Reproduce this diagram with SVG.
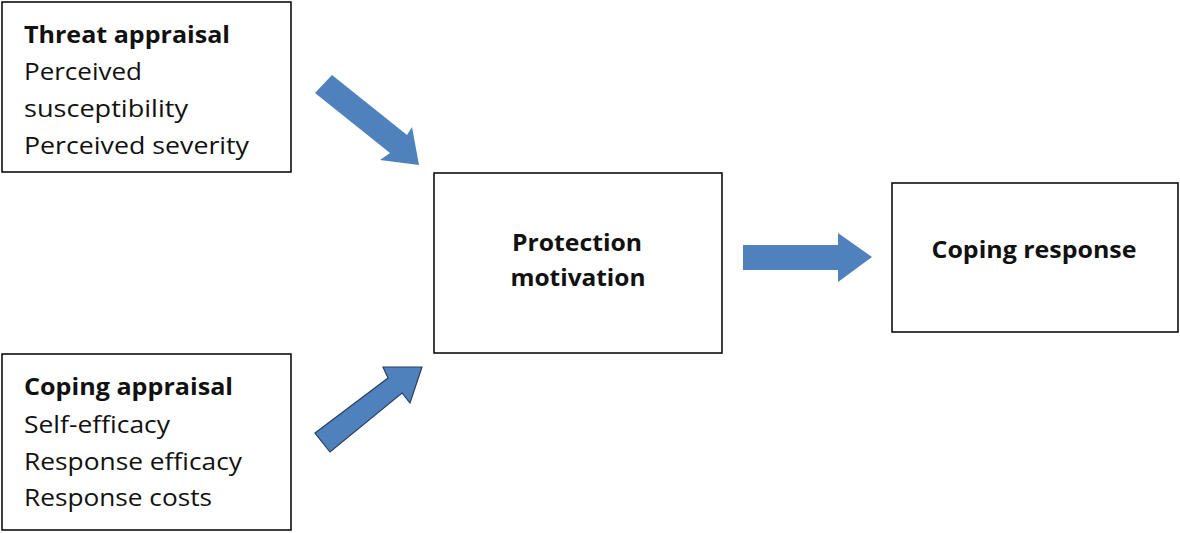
<svg xmlns="http://www.w3.org/2000/svg" width="1180" height="533" viewBox="0 0 1180 533">
<style>
.box{fill:#fff;stroke:#000;stroke-width:1.5}
.t{font-family:"Open Sans","Noto Sans",sans-serif;font-size:24px;fill:#111}
.b{font-weight:bold}
.arr{fill:#4F81BD}
</style>
<rect width="1180" height="533" fill="#fff"/>
<g id="threat">
<rect class="box" x="2" y="2" width="289" height="170"/>
<text class="t b" x="24" y="43" textLength="206" lengthAdjust="spacingAndGlyphs">Threat appraisal</text>
<text class="t" x="24" y="80" textLength="118" lengthAdjust="spacingAndGlyphs">Perceived</text>
<text class="t" x="24" y="117" textLength="164" lengthAdjust="spacingAndGlyphs">susceptibility</text>
<text class="t" x="24" y="154" textLength="225" lengthAdjust="spacingAndGlyphs">Perceived severity</text>
</g>
<g id="coping">
<rect class="box" x="2" y="354" width="289" height="176"/>
<text class="t b" x="24" y="395" textLength="209" lengthAdjust="spacingAndGlyphs">Coping appraisal</text>
<text class="t" x="24" y="433" textLength="146" lengthAdjust="spacingAndGlyphs">Self-efficacy</text>
<text class="t" x="24" y="470" textLength="218" lengthAdjust="spacingAndGlyphs">Response efficacy</text>
<text class="t" x="24" y="506" textLength="188" lengthAdjust="spacingAndGlyphs">Response costs</text>
</g>
<g id="protection">
<rect class="box" x="434" y="173" width="288" height="180"/>
<text class="t b" x="577" y="251" text-anchor="middle" textLength="130" lengthAdjust="spacingAndGlyphs">Protection</text>
<text class="t b" x="578" y="286" text-anchor="middle" textLength="135" lengthAdjust="spacingAndGlyphs">motivation</text>
</g>
<g id="response">
<rect class="box" x="892" y="183" width="286" height="149"/>
<text class="t b" x="1034" y="258" text-anchor="middle" textLength="205" lengthAdjust="spacingAndGlyphs">Coping response</text>
</g>
<g id="connectors">
<polygon class="arr" points="332,75 407,135 412,127 419,165 380,160 390,153 315,93"/>
<polygon class="arr" points="315,433 388,378 383,367 422,367 410,403 402,393 330,452" stroke="#2a3f5f" stroke-width="1.2"/>
<polygon class="arr" points="743,245 838,245 838,233 872,257 838,282 838,270 743,270"/>
</g>
</svg>
